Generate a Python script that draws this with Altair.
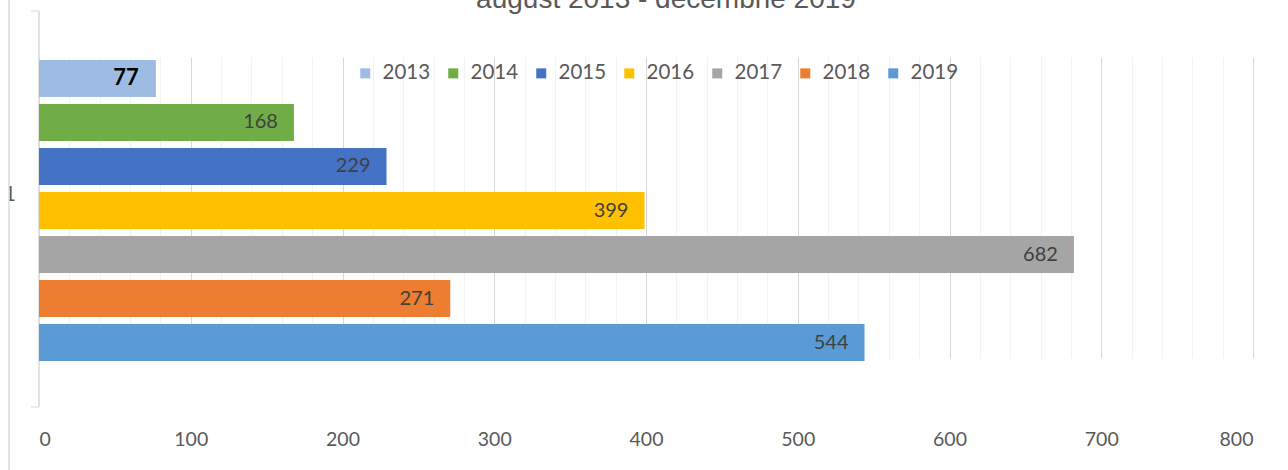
import altair as alt
import pandas as pd

years = ["2013", "2014", "2015", "2016", "2017", "2018", "2019"]
values = [77, 168, 229, 399, 682, 271, 544]
colors = ["#9DBBE3", "#70AD47", "#4472C4", "#FFC000", "#A5A5A5", "#ED7D31", "#5B9BD5"]
title_text = "august 2013 - decembrie 2019"
category_label = "1"
x_domain = [0, 800]
grid_values = list(range(0, 801, 20))

df = pd.DataFrame({"year": years, "value": values})

x_enc = alt.X(
    "value:Q",
    scale=alt.Scale(domain=x_domain, nice=False),
    axis=alt.Axis(
        values=grid_values,
        labelExpr="datum.value % 100 === 0 ? datum.label : ''",
        gridColor={"condition": {"test": "datum.value % 100 === 0", "value": "#D9D9D9"}, "value": "#F2F2F2"},
        ticks=False,
        domain=False,
        labelOverlap=False,
        labelFont="Lato",
        labelFontSize=19.5,
        labelColor="#595959",
        labelPadding=23,
        title=None,
    ),
)
y_enc = alt.Y(
    "year:N",
    sort=years,
    scale=alt.Scale(range=[49, 350], paddingInner=0.16, paddingOuter=0),
    axis=None,
)

base = alt.Chart(df)

bars = base.mark_bar().encode(
    x=x_enc,
    y=y_enc,
    color=alt.Color(
        "year:N",
        scale=alt.Scale(domain=years, range=colors),
        legend=alt.Legend(
            orient="none",
            legendX=316,
            legendY=52,
            padding=0,
            direction="horizontal",
            title=None,
            symbolType="square",
            symbolSize=100,
            symbolStrokeWidth=0,
            labelFont="Lato",
            labelFontSize=20.5,
            labelColor="#595959",
            labelOffset=7,
            columnPadding=12,
        ),
    ),
)

labels = base.transform_filter("datum.year != '2013'").mark_text(
    align="right", baseline="middle", dx=-16, font="Lato", fontSize=20, color="#404040"
).encode(x=x_enc, y=y_enc, text="value:Q")

label_first = base.transform_filter("datum.year == '2013'").mark_text(
    align="right", baseline="middle", dx=-17, font="Lato", fontSize=22, fontWeight="bold", color="#000000"
).encode(x=x_enc, y=y_enc, text="value:Q")

one = pd.DataFrame({"t": [title_text], "c": [category_label]})

title = alt.Chart(one).mark_text(
    align="center", baseline="alphabetic", font="Liberation Sans", fontSize=28, color="#595959"
).encode(x=alt.value(627), y=alt.value(-3), text="t:N")

cat_text = alt.Chart(one).mark_text(
    align="right", baseline="middle", font="Lato", fontSize=21, color="#595959"
).encode(x=alt.value(-23), y=alt.value(184), text="c:N")

cover = alt.Chart(one).mark_rect(color="white").encode(
    x=alt.value(-39), x2=alt.value(-30), y=alt.value(-11), y2=alt.value(459)
)
border = alt.Chart(one).mark_rule(color="#D9D9D9", strokeWidth=1.5).encode(
    x=alt.value(-30), y=alt.value(-11), y2=alt.value(459)
)
y_axis_line = alt.Chart(one).mark_rule(color="#D9D9D9", strokeWidth=1.5).encode(
    x=alt.value(0), y=alt.value(0), y2=alt.value(396)
)
tick_top = alt.Chart(one).mark_rule(color="#D9D9D9").encode(
    x=alt.value(-8), x2=alt.value(0), y=alt.value(0)
)
tick_bot = alt.Chart(one).mark_rule(color="#D9D9D9").encode(
    x=alt.value(-8), x2=alt.value(0), y=alt.value(396)
)

chart = alt.layer(
    y_axis_line, bars, labels, label_first, title, cat_text, cover, border, tick_top, tick_bot
).properties(
    width=1214,
    height=396,
    autosize=alt.AutoSizeParams(type="none"),
    padding={"left": 39, "top": 11, "right": 35, "bottom": 63},
).configure(background="white").configure_view(stroke=None)

chart.save("out.html", embed_options={"renderer": "svg", "actions": False})
